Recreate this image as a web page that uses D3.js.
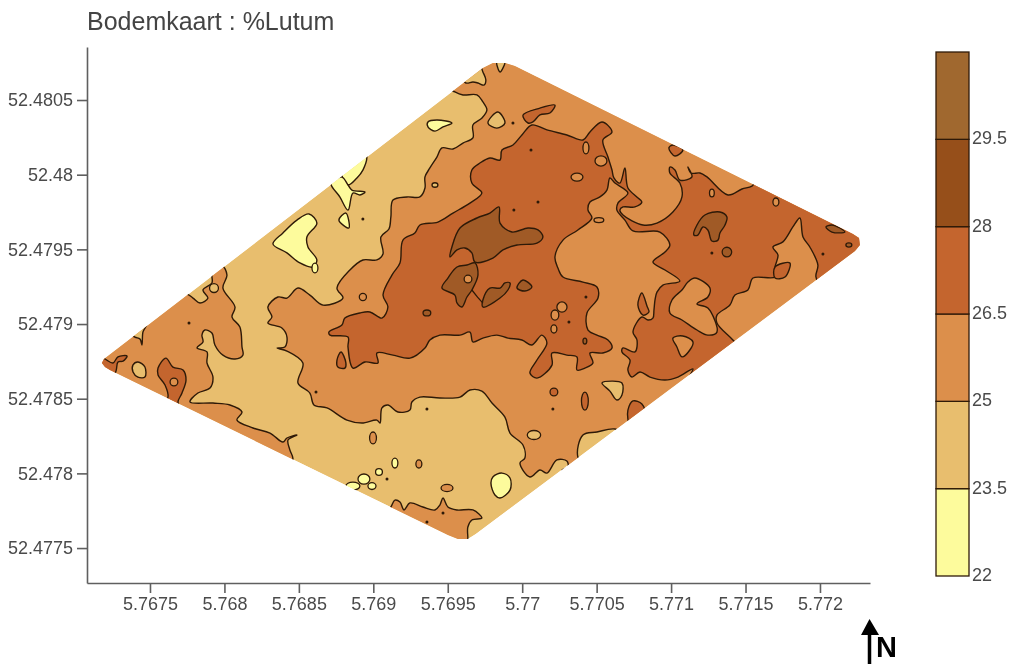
<!DOCTYPE html>
<html><head><meta charset="utf-8">
<script src="https://cdn.jsdelivr.net/npm/d3@7"></script>
<style>html,body{margin:0;padding:0;background:#fff;overflow:hidden}svg{display:block;filter:blur(0.4px)}text{font-family:"Liberation Sans",Arial,sans-serif}</style>
</head><body><svg id="c" width="1010" height="664"></svg>
<script>
// Map coordinates: offsets from the origin in 1e-5 degrees [lon, lat]
const lonOrigin = 5.767, latOrigin = 52.477;
const lonTicks = [5.7675,5.768,5.7685,5.769,5.7695,5.77,5.7705,5.771,5.7715,5.772];
const latTicks = [52.4775,52.478,52.4785,52.479,52.4795,52.48,52.4805];
const bandBreaks = [22,23.5,25,26.5,28,29.5,31];
const legendLabels = [22,23.5,25,26.5,28,29.5];
const bandColors = ["#fdfb9c","#e8be6e","#dc8f4b","#c4652e","#964f1a","#a0682f"];
const mapDark = "#a05a26";

const field = [[19.1,176.6],[17.7,173.9],[19.8,171.2],[23.1,169.2],[250.1,58.7],[256.8,56],[263.5,56],[268.9,59.4],[523.5,248.9],[526.8,252.9],[526.2,257.6],[522.1,260.3],[295.1,372.8],[288.4,374.8],[280.3,374.8],[273.6,371.4]];

// >= 25 %
const over25Main = [[254.8,355.4],[260.2,353.4],[269.6,353.4],[273.6,348.7],[276.3,343.3],[273,338],[266.9,333.3],[266.9,324.6],[260.2,321.2],[253.5,317.2],[246.1,317.9],[242.7,311.8],[238,304.5],[234.7,298.5],[234.7,291.1],[231.3,285.1],[222.6,285.1],[213.2,283],[211.8,271.7],[210.5,263.6],[205.1,258.3],[206.5,246.9],[202.4,242.9],[193,242.9],[184.3,236.2],[175.6,224.1],[179.6,217.4],[166.2,212.7],[157.4,219.4],[149.4,224.1],[142,217.4],[135.9,218.1],[129.2,211.4],[131.9,204.7],[129.2,200.7],[138.6,197.3],[142,191.3],[140.6,184.6],[135.3,183.9],[142,181.9],[152.7,173.9],[149.4,160.5],[157.4,153.8],[160.1,145.8],[168.9,143.8],[182.3,135.7],[192.4,133.7],[202.4,135.7],[204.5,133.7],[205.8,143.8],[209.8,145.8],[216.5,141.1],[224.6,142.4],[225.9,147.8],[231.3,151.1],[244.7,150.5],[258.2,151.1],[264.9,155.8],[272.9,155.1],[279.7,147.1],[288.4,137.7],[291.8,127],[300.5,119],[301.8,110.3],[298.5,106.9],[305.2,97.6],[311.9,102.3],[316.6,100.2],[323.3,109],[330,108.3],[330.7,104.3],[326.7,102.2],[335.4,95.6],[345.5,102.2],[337.4,111],[340.8,125.7],[350.2,127.7],[362.3,129.7],[379.1,122.4],[553.7,242.9],[533.5,273],[298.5,383.5],[264.9,380.1],[248.1,360]];
const over25West = [[73.5,220.8],[78.9,217.4],[83.6,214.1],[88.9,217.4],[85.6,222.8],[91.6,227.5],[91.6,232.8],[93,238.8],[98.3,239.5],[101.7,232.8],[99,224.1],[107.1,211.4],[105.1,204.7],[110.4,198],[111.8,184.6],[112.4,179.2],[107.1,176.6],[99,179.2],[93.6,186],[91.6,194],[86.9,196],[84.9,192.6],[85.6,188],[81.6,184],[88.3,181.3],[88.3,173.9],[92.3,164.5],[90.3,157.2],[82.2,153.8],[76.9,147.8],[92.3,147.1],[103.7,145.8],[111.8,141.1],[108.4,135.7],[119.2,130.4],[130.6,127],[139.3,121],[142,123.7],[148.7,125.7],[142.7,122.3],[144,115.6],[146,109.6],[140.6,100.9],[16.4,159.2],[8.4,179.3],[63.4,219.4]];
const over25South = [[209.8,75.5],[211.8,77.5],[214.5,82.1],[217.9,80.8],[220.6,75.5],[224.6,80.2],[233.3,77.5],[241.4,75.5],[244.7,78.8],[246.8,83.5],[250.1,77.5],[256.2,75.5],[266.9,75.5],[272.9,70.1],[266.2,68.8],[263.5,64.1],[263.5,56.7],[263.5,50],[244.7,52]];
// 23.5 - 25 % pockets
const pockets235 = [
 [[262.2,361.4],[266.9,362.1],[270.3,361.4],[274.3,360],[275.6,363.4],[273.6,368.8],[270.3,375.5],[258.2,366.7]],
 [[283,376.1],[285.1,368.8],[288.4,376.1]],
 [[283.7,342],[288.4,334.6],[283,331.2],[277,334.6]],
 [[35.2,194.7],[39.9,191.3],[43.3,190],[44.6,186],[45.3,194.7],[48,200.7],[41.9,202.7]],
 [[41.9,174.6],[46.6,171.2],[46.6,164.5],[41.9,164.5],[38.6,167.9],[38.6,172.6]],
 [[353.6,160.5],[360.3,161.8],[367,160.5],[367,152.5],[363.6,149.1],[358.9,155.1]]
];
// < 23.5 %
const under235 = [
 [[156.8,273.7],[162.1,267.6],[155.4,258.3],[156.1,251.6],[162.1,242.9],[159.5,238.2],[150.7,240.9],[142,247.6],[132.6,253.6],[139.3,261],[148.7,269.6]],
 [[195.7,311.8],[193,303.1],[189,297.8],[183,293.1],[178.9,299.8],[180.9,306.5],[194.4,316.5]],
 [[171.5,294.4],[178.9,298.4],[183,293.1],[185.6,289.7],[194.4,288.4],[191,286.4],[186.3,287.7],[183,276.3],[177.6,285]],
 [[181.6,274.3],[183.6,264.3],[176.9,269.6]],
 [[236.7,335.3],[242.7,336.6],[252.8,334.6],[246.8,332],[241.4,329.2],[236.7,332]],
 [[280.3,97.6],[286.4,100.2],[291.8,96.9],[291.8,88.8],[285.1,83.5],[281.7,85.5],[279,93.5]]
];
// >= 26.5 %
const over265Main = [[170.2,194.7],[178.9,199.4],[180.9,204],[191,207.4],[197.7,208.1],[205.8,204],[209.8,211.4],[206.5,219.4],[212.5,232.8],[217.9,240.9],[219.9,256.2],[227.9,261],[231.3,266.3],[243.4,268.3],[253.5,274.3],[264.9,281],[272.9,287.7],[266.2,294.4],[266.2,303.1],[271.6,307.8],[278.3,311.2],[285.1,309.8],[286.4,316.5],[293.8,319.9],[299.8,326.6],[306.5,333.3],[316.6,330],[330,326.6],[340.8,323.2],[345.5,328.6],[353.6,335.3],[360.3,328.6],[354.2,323.2],[357.6,311.8],[360.3,303.1],[361.6,297.8],[365.6,294.4],[369,304.5],[371,291.1],[377,285.1],[380.4,281.7],[375.7,278.4],[367.7,278.4],[365.6,276.3],[367.7,273],[381.1,266.3],[390.5,267.6],[401.2,275],[407.3,285.1],[405.9,294.4],[399.2,301.1],[399.2,305.1],[402.6,303.1],[405.9,296.4],[414,298.5],[411.3,305.1],[413.3,301.1],[419.4,301.1],[424.1,298.5],[438.2,286.4],[447.6,290.4],[454.3,292.4],[459.7,297.8],[533.5,263],[534.9,249.6],[503.3,221.4],[497.3,231.5],[498.6,239.5],[493.2,251.6],[488.6,258.3],[486.5,271],[481.8,265],[475.1,255],[468.4,251.6],[471.8,246.2],[469.8,238.2],[469.8,231.5],[455,230.8],[451.6,222.8],[442.9,219.4],[439.5,212.7],[430.8,206],[430.8,200.7],[441.5,189.3],[447.6,182.6],[411.3,162.5],[414.7,169.9],[404.6,164.5],[395.9,162.5],[385.8,164.5],[379.1,167.9],[373.7,164.5],[371,169.2],[372.4,175.9],[367,181.3],[367.7,184],[375.7,181.3],[377.1,189.3],[374.4,194.7],[380.4,204.7],[384.5,202.7],[387.8,204],[388.5,209.4],[389.2,216.1],[390.5,221.4],[394.5,226.1],[405.9,228.8],[395.9,236.2],[387.8,241.5],[395.9,248.2],[399.2,252.9],[392.5,261.6],[374.4,262.3],[369,269.6],[363.6,276.3],[364.3,281],[371,287.7],[362.3,294.4],[358.9,297.8],[356.9,289.7],[352.2,285.1],[345.5,281.7],[344.2,276.3],[346.8,271],[337.4,263],[327.4,256.2],[322,244.9],[324,237.5],[327.4,231.5],[340.8,228.1],[350.2,224.8],[350.9,217.4],[343.5,207.4],[344.2,196],[350.2,192.6],[357.6,189.3],[360.3,183.9],[354.2,180.6],[345.5,180.6],[347.5,173.9],[342.1,170.5],[336.8,169.2],[336.8,177.9],[330,179.2],[320,180.6],[320,172.5],[309.9,163.8],[305.2,167.2],[309.9,175.9],[316.6,187.3],[313.2,192.6],[306.5,186],[299.8,189.3],[290.4,190.6],[283,192.6],[273.6,190.6],[266.9,188],[264.9,194.6],[258.2,192.6],[244.7,192.6],[238,189.3],[234.7,184],[224.6,177.2],[213.2,179.2],[202.4,180.6],[203.1,173.9],[194.4,174.6],[186.3,170.5],[183,184.6],[183,191.3],[170.9,192.6]];
const patches265 = [
 [[18.4,177],[25.1,173.9],[28.5,178],[34.6,178.6],[31.9,175.2],[28.5,174.6],[27.2,168.5],[24.5,163.9],[15.1,170.5],[15.1,174.6]],
 [[60.7,177.2],[65.4,171.2],[72.2,169.2],[74.2,162.5],[71.5,153.8],[68.8,147.8],[70.8,142.4],[60.1,147.8],[62.1,151.1],[60.1,159.2],[55.4,165.9],[55.4,170.5]],
 [[380.4,220.8],[383.8,212.1],[385.1,208],[381.1,206],[377.7,212.7]],
 [[469.8,238.2],[479.8,240.9],[476.5,231.5],[469.8,230.8]],
 [[398.5,317.9],[401.2,319.9],[407.9,316.5],[402.6,312.5]],
 [[300.5,339.9],[311.9,344.6],[322,346.6],[318.6,341.3],[311.9,340],[307.2,335.3],[303.9,334.6]],
 [[178.3,181.3],[181.6,173.9],[180.9,170.5],[176.2,171.2],[175.6,175.9]],
 [[371,136.4],[371,142.4],[374.4,148.5],[380.4,146.5],[382.4,139.1],[372.4,130.4]]
];
// 25 - 26.5 % pockets inside the >= 26.5 area
const pockets25 = [
 [[416,230.8],[426.1,224.1],[424.7,218.1],[417.4,213.4],[424.7,210.7],[430.8,194.6],[424.7,192.6],[417.4,196],[407.3,202.7],[399.2,207.4],[400.6,216.1],[407.3,222.8],[411.3,228.1]],
 [[401.2,190.6],[407.9,192],[414.7,188],[412.6,182.6],[407.3,178],[403.9,184.6]]
];
// >= 28 %
const over28 = [
 [[284.4,278.4],[285.1,267.6],[293.1,261.6],[303.9,264.3],[310.6,263],[313.9,258.3],[309.9,254.2],[296.5,252.9],[287.1,249.6],[280.3,244.2],[268.3,241.5],[266.2,247.6],[261.5,250.9],[256.2,249.6],[251.5,244.9],[252.8,251.6],[258.2,264.3],[269.6,271],[278.3,274.3]],
 [[268.3,240.9],[270.3,232.8],[266.2,222.8],[262.9,218.1],[259.5,211.4],[256.2,214.1],[254.8,219.4],[246.1,224.1],[250.1,230.8],[256.2,238.2],[262.9,239.5]],
 [[291.8,227.5],[290.4,222.8],[285.1,217.4],[273.6,211.4],[273.6,216.1],[278.3,224.1],[285.1,224.1],[288.4,227.5]],
 [[300.5,229.5],[306.5,224.8],[301.8,222.1],[296.5,224.1]],
 [[432.8,275],[437.5,271.6],[436.2,266.3],[432.8,261],[431.5,256.2],[427.4,255.6],[424.7,263],[421.4,265],[418,259.6],[415.3,259.6],[417.4,266.3],[422.7,273]],
 [[504,265],[508,266.3],[513.4,264.3],[516.7,261.6],[508,261.6]]
];
const ridge28 = [[266.2,222.8],[270,218],[273.6,214]];
// small closed contours: [lon, lat, rLon, rLat]
const spots235 = [[93,224.1,3,3],[307.9,125.7,4.5,3],[241.4,293.1,2,1.5]];
const spots25 = [[66.1,161.2,2.6,2.6],[193,218.1,2.4,2.4],[342.8,317.9,2,4],[352.9,309.2,4,3.4],[336.8,298.4,4,2.7],[427.4,287.7,1.6,2.6],[470.4,281.7,2,2.7],[263.6,230.1,2.6,2.6],[326.7,211.4,3.4,3.4],[322,206,2.6,3.4],[321.3,196.7,2,2.7],[351.5,269.6,3.3,1.7],[199.8,123.7,2.3,4],[230.6,106.3,2,2.7],[249.5,90.2,4,2.4]];
const spots265 = [[321.3,154.5,2.6,2.6],[342.1,148.4,2.3,6]];
const spots28 = [[342.1,188.6,1.3,2],[236,207.4,2.6,2],[437.5,248.2,3.2,3.2],[519.4,252.9,2,1.4]];
const spotsLow = [[160.8,237.5,2,3.3],[214.5,106.9,2,3.3],[203.8,100.9,2.3,2.3],[193.7,96.2,4,3.4],[199.1,91.5,2.7,2.3],[186.3,91.5,4.7,2.7]];
const pinpoints = [[76.2,200.7],[293.8,334.6],[305.9,316.5],[310.6,281.7],[294.4,276.3],[342.8,218.1],[331.4,201.4],[427.4,247.6],[502,246.9],[161.5,154.5],[320.6,143.1],[236,143.1],[209.2,96.2],[246.8,73.5],[236,67.4],[193,270.3]];

const svg = d3.select("#c");
const x = d3.scaleLinear().domain([5.767077,5.772336]).range([87,870]);
const y = d3.scaleLinear().domain([52.477266,52.480855]).range([583,47]);
const project = p => [x(lonOrigin + p[0]/1e5), y(latOrigin + p[1]/1e5)];
const INK = "#2e1a08";
const closed = d3.line().curve(d3.curveCatmullRomClosed.alpha(0.5));
const straight = d3.line().curve(d3.curveLinear);

svg.append("defs").append("clipPath").attr("id","fieldClip").append("path")
  .attr("d", straight(field.map(project))+"Z");

const map = svg.append("g").attr("clip-path","url(#fieldClip)");
map.append("path").attr("d", straight(field.map(project))+"Z").attr("fill",bandColors[1]);

function areas(list, fill){
  map.append("g").selectAll("path").data(list).join("path")
    .attr("d", d => closed(d.map(project)))
    .attr("fill", fill).attr("stroke",INK).attr("stroke-width",1.4).attr("stroke-linejoin","round");
}
function spots(list, fill){
  map.append("g").selectAll("ellipse").data(list).join("ellipse")
    .attr("cx", d => project(d)[0]).attr("cy", d => project(d)[1])
    .attr("rx", d => x(lonOrigin + d[2]/1e5) - x(lonOrigin))
    .attr("ry", d => y(latOrigin) - y(latOrigin + d[3]/1e5))
    .attr("fill", fill).attr("stroke",INK).attr("stroke-width",1.3);
}
areas([over25Main, over25West, over25South], bandColors[2]);
areas(pockets235, bandColors[1]);
areas(under235, bandColors[0]);
areas([over265Main], bandColors[3]);
areas(patches265, bandColors[3]);
areas(pockets25, bandColors[2]);
areas(over28, mapDark);
map.append("path").attr("d", straight(ridge28.map(project))).attr("fill","none").attr("stroke",INK).attr("stroke-width",1.3);
spots(spots235,bandColors[1]); spots(spots25,bandColors[2]); spots(spots265,bandColors[3]); spots(spots28,mapDark); spots(spotsLow,bandColors[0]);
map.append("g").selectAll("circle").data(pinpoints).join("circle")
  .attr("cx", d => project(d)[0]).attr("cy", d => project(d)[1]).attr("r",1.5).attr("fill",INK);

// axes
function styleAxis(g,size){
  g.selectAll(".domain,.tick line").attr("stroke","#5f5f5f").attr("stroke-width",1.6);
  g.selectAll("text").attr("fill","#4a4a4a").style("font-size",size+"px").style("font-family",'"Liberation Sans",Arial,sans-serif');
}
svg.append("g").attr("transform","translate(0,583)")
  .call(d3.axisBottom(x).tickValues(lonTicks).tickFormat(d3.format(".5~f")).tickSize(10).tickSizeOuter(0).tickPadding(4))
  .call(g=>styleAxis(g,18));
svg.append("g").attr("transform","translate(87,0)")
  .call(d3.axisLeft(y).tickValues(latTicks).tickFormat(d3.format(".4~f")).tickSize(10).tickSizeOuter(0).tickPadding(4))
  .call(g=>styleAxis(g,18));

svg.append("text").attr("x",87).attr("y",30).attr("fill","#444").style("font-size","25px").text("Bodemkaart : %Lutum");

// legend
const ly = d3.scaleLinear().domain([22,31]).range([576,52]);
const bands = d3.pairs(bandBreaks);
const leg = svg.append("g");
leg.selectAll("rect").data(bands).join("rect")
  .attr("x",936).attr("width",33)
  .attr("y",d=>ly(d[1])).attr("height",d=>ly(d[0])-ly(d[1]))
  .attr("fill",(d,i)=>bandColors[i]).attr("stroke",INK).attr("stroke-width",1.3);
leg.selectAll("text").data(legendLabels).join("text")
  .attr("x",972).attr("y",d=>ly(d)+5).attr("fill","#4a4a4a").style("font-size","18px").text(d=>d);

// north arrow
const north = svg.append("g");
north.append("path").attr("d", d3.line()([[861,635],[869.5,619],[879,635]])+"Z").attr("fill","#000");
north.append("line").attr("x1",869.5).attr("x2",869.5).attr("y1",630).attr("y2",664).attr("stroke","#000").attr("stroke-width",3.5);
north.append("text").attr("x",876).attr("y",657).attr("fill","#000").style("font-size","29px").style("font-weight","bold").text("N");
</script></body></html>
